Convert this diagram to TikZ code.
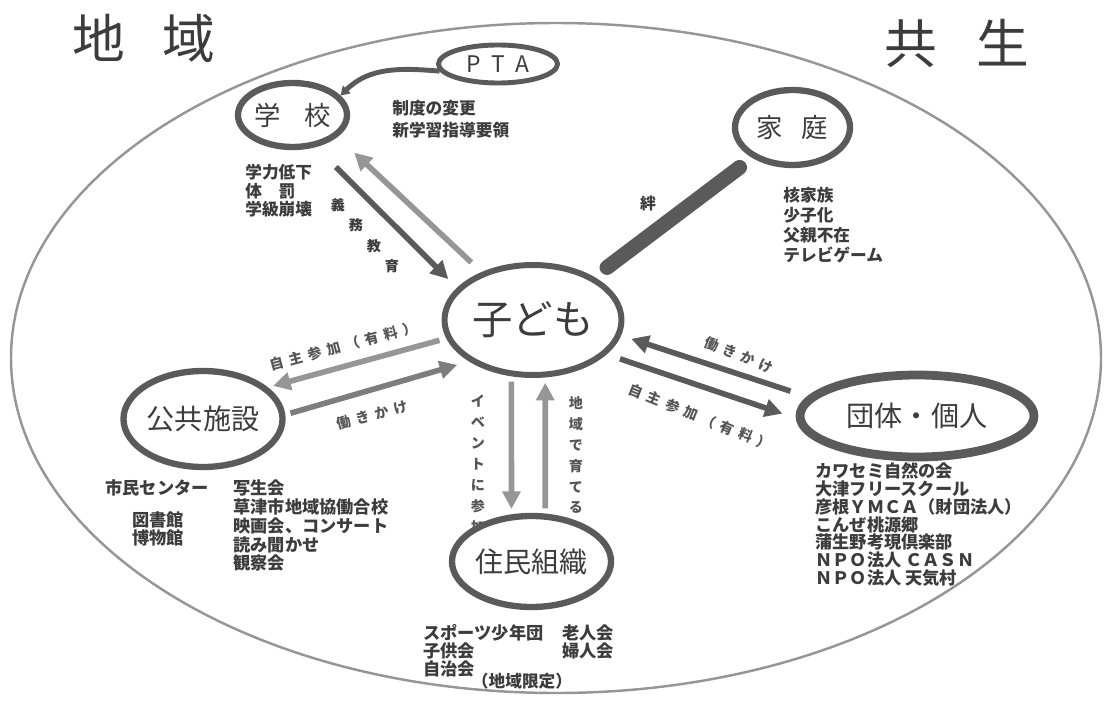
\documentclass[tikz,border=0pt]{standalone}
\usepackage{fontspec}
\setmainfont{Noto Sans CJK JP}
\newfontfamily\spacedfont[LetterSpace=40]{Noto Sans CJK JP}
\usepackage{tikz}
\usetikzlibrary{shapes.geometric,arrows.meta,calc}
\definecolor{ringgray}{RGB}{150,150,150}
\definecolor{nodegray}{RGB}{90,90,90}
\definecolor{textgray}{RGB}{60,60,60}
\definecolor{labelgray}{RGB}{85,85,85}
\definecolor{darkarrow}{RGB}{90,90,90}
\definecolor{midarrow}{RGB}{125,125,125}
\definecolor{lightarrow}{RGB}{150,150,150}

\begin{document}
\begin{tikzpicture}[
    every node/.style={text=textgray},
    area/.style={ellipse, draw=nodegray, line width=3.6pt, fill=white, inner sep=0pt},
    note/.style={anchor=north west, align=left, inner sep=0pt},
    arrow/.style={-{Triangle[length=10pt,width=10pt]}, line width=3.2pt},
    flow/.style={font={\fontsize{8}{9}\spacedfont\bfseries}, text=labelgray},
    vlabel/.style={anchor=north, align=center, inner sep=0pt, text=labelgray, font={\fontsize{8}{11.9}\selectfont\bfseries}},
    kizuna/.style={line width=8.5pt, line cap=round, draw=darkarrow, shorten <=9pt, shorten >=9pt}
]
\useasboundingbox (0,0) rectangle (22.32,14.02);

% 大きな輪
\draw[ringgray, line width=1.4pt] (11.12,6.86) ellipse (10.9 and 6.7);

% 見出し
\node[font=\fontsize{30}{36}\selectfont] (chiiki) at (2.88,13.26) {地\hspace{0.7em}域};
\node[font=\fontsize{30}{36}\selectfont] (kyousei) at (19.14,13.16) {共\hspace{0.75em}生};

% 縦書きラベル
\node[vlabel] (event) at (9.56,6.12) {イ\\ベ\\ン\\ト\\に\\参\\加};
\node[vlabel] (sodateru) at (11.52,6.1) {地\\域\\で\\育\\て\\る};

% 学校・PTA
\node[area, minimum width=2.18cm, minimum height=1.28cm, font=\fontsize{15}{18}\selectfont] (gakko) at (5.85,11.72) {学\hspace{0.9em}校};
\node[area, line width=2.8pt, minimum width=2.38cm, minimum height=0.76cm, font=\fontsize{13}{15}\selectfont] (pta) at (9.96,12.74) {P\hspace{0.45em}T\hspace{0.45em}A};

% 家庭
\node[area, minimum width=2.3cm, minimum height=1.5cm, font=\fontsize{15}{18}\selectfont] (katei) at (15.85,11.47) {家\hspace{0.7em}庭};

% 子ども
\node[area, line width=3.4pt, minimum width=3.54cm, minimum height=2.2cm, font=\fontsize{23}{28}\selectfont] (kodomo) at (10.66,7.62) {子ども};

% 公共施設
\node[area, minimum width=3.08cm, minimum height=1.92cm, font=\fontsize{16}{19}\selectfont] (koukyou) at (4.06,5.64) {公共施設};

% 住民組織
\node[area, minimum width=3.02cm, minimum height=1.82cm, font=\fontsize{16}{19}\selectfont] (juumin) at (10.63,2.79) {住民組織};

% 団体・個人
\node[area, line width=5pt, minimum width=4.68cm, minimum height=1.64cm, font=\fontsize{16}{19}\selectfont] (dantai) at (18.34,5.7) {団体・個人};

% PTA → 学校
\draw[nodegray, line width=2.8pt, -{Triangle[length=5pt,width=6pt]}] (pta.187) to[out=175,in=45] (gakko.22);

% 義務教育
\draw[arrow, darkarrow, shorten <=16pt, shorten >=7pt] (gakko.-54) -- (kodomo.157);
\draw[arrow, lightarrow, shorten <=8pt, shorten >=13pt] (kodomo.137) -- (gakko.-26);
\foreach \ch [count=\i] in {義,務,教,育}
  \node[font=\fontsize{8}{9}\selectfont\bfseries] (gimu-\i) at ({6.76+0.36*(\i-1)},{9.92-0.41*(\i-1)}) {\ch};

% 絆
\draw[kizuna] (katei.217) -- (kodomo.35);
\node[font=\fontsize{9}{10}\selectfont\bfseries] (kizuna-lbl) at (12.96,9.96) {絆};

% 公共施設との矢印
\draw[arrow, lightarrow, shorten <=4pt, shorten >=3pt] (kodomo.192) -- (koukyou.26);
\draw[arrow, midarrow, shorten <=3pt, shorten >=7pt] (koukyou.3) -- (kodomo.213);
\node[flow, rotate=15] (sanka-l) at (6.86,7.1) {自主参加（有料）};
\node[flow, rotate=15] (hataraki-l) at (7.44,5.72) {働きかけ};

% 住民組織との矢印
\draw[arrow, lightarrow, shorten <=3pt, shorten >=3pt] (kodomo.249) -- (juumin.113);
\draw[arrow, lightarrow, shorten <=3pt, shorten >=3pt] (juumin.74) -- (kodomo.-78);

% 団体・個人との矢印
\draw[arrow, darkarrow, shorten <=10pt, shorten >=6pt] (dantai.170) -- (kodomo.-10);
\draw[arrow, darkarrow, shorten <=8pt, shorten >=8pt] (kodomo.-25) -- (dantai.181);
\node[flow, rotate=-22] (hataraki-r) at (14.78,6.92) {働きかけ};
\node[flow, rotate=-22] (sanka-r) at (14.0,5.68) {自主参加（有料）};

% 説明
\node[note, font=\fontsize{9.5}{12.5}\selectfont\bfseries] (seido) at (7.84,12.02) {制度の変更\\新学習指導要領};
\node[note, font=\fontsize{9.5}{10.5}\selectfont\bfseries] (gakuryoku) at (4.9,10.74) {学力低下\\体　罰\\学級崩壊};
\node[note, font=\fontsize{9.5}{11.3}\selectfont\bfseries] (kakukazoku) at (15.66,10.28) {核家族\\少子化\\父親不在\\テレビゲーム};
\node[note, font=\fontsize{9.8}{10.8}\selectfont\bfseries] (shimin) at (2.1,4.44) {市民センター};
\node[note, font=\fontsize{9.8}{10.2}\selectfont\bfseries] (tosho) at (2.64,3.8) {図書館\\博物館};
\node[note, font=\fontsize{9.8}{10.8}\selectfont\bfseries] (shasei) at (4.66,4.44) {写生会\\草津市地域協働合校\\映画会、コンサート\\読み聞かせ\\観察会};
\node[note, font=\fontsize{9.8}{9.2}\selectfont\bfseries] (sports) at (8.46,1.54) {スポーツ少年団\\子供会\\自治会};
\node[note, font=\fontsize{9.8}{10.2}\selectfont\bfseries] (roujin) at (11.24,1.54) {老人会\\婦人会};
\node[font=\fontsize{9.5}{10}\selectfont\bfseries] (gentei) at (10.44,0.4) {（地域限定）};
\node[note, font=\fontsize{9.8}{10.2}\selectfont\bfseries] (dantai-list) at (16.3,4.78) {カワセミ自然の会\\大津フリースクール\\彦根ＹＭＣＡ（財団法人）\\こんぜ桃源郷\\蒲生野考現倶楽部\\ＮＰＯ法人 ＣＡＳＮ\\ＮＰＯ法人 天気村};

\end{tikzpicture}
\end{document}
